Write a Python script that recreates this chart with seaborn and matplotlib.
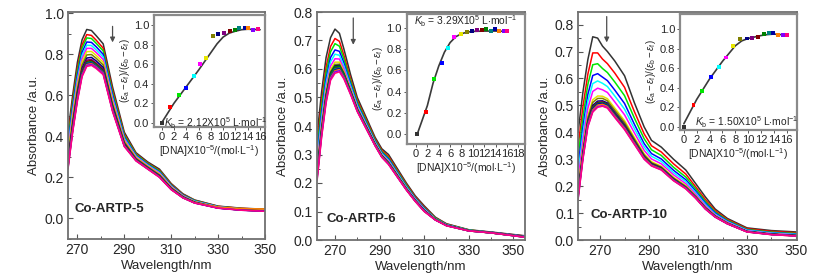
import numpy as np
import pandas as pd
import matplotlib
matplotlib.use('Agg')
import matplotlib.pyplot as plt
from matplotlib.ticker import MultipleLocator, FixedLocator
import seaborn as sns

# estilo
sns.set_style('ticks')
plt.rcParams['font.family'] = ['Liberation Sans', 'DejaVu Sans']
plt.rcParams['mathtext.fontset'] = 'custom'
plt.rcParams['mathtext.rm'] = 'Liberation Sans'
plt.rcParams['mathtext.it'] = 'Liberation Sans:italic'
plt.rcParams['mathtext.bf'] = 'Liberation Sans:bold'

# cores padrao do Origin (uma por adicao de DNA)
cores = ['#333333', '#ff0000', '#00e600', '#0000ff', '#00ffff', '#ff00ff', '#e6e600', '#808000', '#000080',
         '#800080', '#800000', '#008000', '#008080', '#0000a0', '#ff8000', '#8000ff', '#ff0080']

# ---------------- Co-ARTP-5 ----------------
wl5 = [266, 268, 270, 272, 274, 276, 278, 281, 285, 290, 295, 300, 305, 310, 315, 320, 330, 340, 350]
abs5 = [
    [0.420, 0.600, 0.760, 0.870, 0.920, 0.915, 0.890, 0.850, 0.640, 0.420, 0.320, 0.275, 0.240, 0.170, 0.120, 0.090, 0.060, 0.050, 0.045],
    [0.395, 0.575, 0.733, 0.845, 0.895, 0.891, 0.868, 0.829, 0.623, 0.410, 0.314, 0.270, 0.234, 0.166, 0.117, 0.088, 0.059, 0.049, 0.044],
    [0.379, 0.559, 0.716, 0.829, 0.879, 0.876, 0.853, 0.816, 0.612, 0.404, 0.311, 0.267, 0.231, 0.163, 0.115, 0.087, 0.058, 0.048, 0.043],
    [0.359, 0.539, 0.695, 0.809, 0.859, 0.857, 0.836, 0.799, 0.599, 0.396, 0.306, 0.263, 0.226, 0.160, 0.113, 0.085, 0.057, 0.047, 0.042],
    [0.343, 0.523, 0.678, 0.793, 0.843, 0.842, 0.821, 0.786, 0.588, 0.390, 0.303, 0.260, 0.223, 0.157, 0.111, 0.084, 0.056, 0.046, 0.041],
    [0.328, 0.508, 0.663, 0.778, 0.828, 0.828, 0.808, 0.774, 0.579, 0.384, 0.300, 0.257, 0.220, 0.155, 0.110, 0.082, 0.055, 0.045, 0.040],
    [0.312, 0.492, 0.646, 0.762, 0.812, 0.813, 0.794, 0.760, 0.568, 0.378, 0.296, 0.254, 0.216, 0.152, 0.108, 0.081, 0.054, 0.044, 0.039],
    [0.296, 0.476, 0.629, 0.746, 0.796, 0.798, 0.780, 0.747, 0.557, 0.372, 0.292, 0.251, 0.212, 0.149, 0.106, 0.080, 0.053, 0.043, 0.038],
    [0.281, 0.461, 0.614, 0.731, 0.781, 0.784, 0.767, 0.735, 0.548, 0.366, 0.289, 0.248, 0.209, 0.147, 0.105, 0.078, 0.052, 0.042, 0.037],
    [0.271, 0.451, 0.602, 0.721, 0.771, 0.774, 0.757, 0.726, 0.540, 0.362, 0.287, 0.246, 0.207, 0.145, 0.103, 0.078, 0.052, 0.042, 0.037],
    [0.265, 0.445, 0.597, 0.715, 0.765, 0.769, 0.752, 0.721, 0.537, 0.360, 0.286, 0.245, 0.206, 0.144, 0.103, 0.077, 0.051, 0.041, 0.036],
    [0.260, 0.440, 0.591, 0.710, 0.760, 0.764, 0.748, 0.717, 0.533, 0.358, 0.284, 0.244, 0.204, 0.143, 0.102, 0.077, 0.051, 0.041, 0.036],
    [0.256, 0.436, 0.587, 0.706, 0.756, 0.760, 0.744, 0.714, 0.531, 0.356, 0.284, 0.243, 0.204, 0.143, 0.102, 0.076, 0.051, 0.041, 0.036],
    [0.253, 0.433, 0.583, 0.703, 0.753, 0.757, 0.741, 0.711, 0.528, 0.355, 0.283, 0.242, 0.203, 0.142, 0.101, 0.076, 0.051, 0.041, 0.036],
    [0.249, 0.429, 0.580, 0.699, 0.749, 0.754, 0.738, 0.708, 0.526, 0.354, 0.282, 0.242, 0.202, 0.142, 0.101, 0.076, 0.055, 0.048, 0.046],
    [0.245, 0.425, 0.576, 0.695, 0.745, 0.750, 0.735, 0.705, 0.524, 0.352, 0.281, 0.241, 0.201, 0.141, 0.101, 0.075, 0.050, 0.040, 0.035],
    [0.240, 0.420, 0.570, 0.690, 0.740, 0.745, 0.730, 0.700, 0.520, 0.350, 0.280, 0.240, 0.200, 0.140, 0.100, 0.075, 0.050, 0.040, 0.035],
]
dna5 = [0, 1.4, 2.8, 4.0, 5.2, 6.2, 7.2, 8.3, 9.2, 10.2, 11.1, 11.9, 12.6, 13.6, 14.1, 14.9, 15.6]
razao5 = [0.0, 0.164, 0.284, 0.353, 0.48, 0.60, 0.66, 0.89, 0.91, 0.925, 0.94, 0.95, 0.976, 0.97, 0.976, 0.95, 0.96]
ajuste5_x = [0, 2, 4, 6, 7, 8, 9, 10, 11, 12, 13, 14, 15, 16]
ajuste5_y = [0.0, 0.20, 0.37, 0.54, 0.63, 0.72, 0.81, 0.88, 0.92, 0.94, 0.955, 0.96, 0.958, 0.955]

# ---------------- Co-ARTP-6 ----------------
wl6 = [262, 264, 266, 268, 270, 272, 274, 277, 280, 284, 288, 291, 294, 298, 302, 306, 310, 315, 320, 330, 340, 355]
abs6 = [
    [0.370, 0.520, 0.640, 0.710, 0.740, 0.725, 0.670, 0.580, 0.500, 0.430, 0.360, 0.320, 0.300, 0.250, 0.200, 0.155, 0.120, 0.080, 0.057, 0.036, 0.028, 0.015],
    [0.336, 0.486, 0.606, 0.679, 0.707, 0.697, 0.648, 0.565, 0.490, 0.422, 0.354, 0.314, 0.293, 0.244, 0.195, 0.151, 0.116, 0.078, 0.056, 0.035, 0.027, 0.014],
    [0.317, 0.467, 0.587, 0.660, 0.689, 0.680, 0.635, 0.557, 0.484, 0.417, 0.350, 0.310, 0.288, 0.240, 0.192, 0.148, 0.113, 0.077, 0.055, 0.035, 0.027, 0.013],
    [0.295, 0.445, 0.565, 0.640, 0.667, 0.662, 0.621, 0.547, 0.477, 0.411, 0.346, 0.306, 0.284, 0.236, 0.188, 0.146, 0.111, 0.075, 0.054, 0.034, 0.027, 0.013],
    [0.279, 0.429, 0.549, 0.625, 0.652, 0.648, 0.610, 0.540, 0.472, 0.407, 0.343, 0.303, 0.280, 0.233, 0.186, 0.144, 0.109, 0.074, 0.053, 0.034, 0.026, 0.012],
    [0.263, 0.413, 0.533, 0.610, 0.636, 0.635, 0.600, 0.533, 0.467, 0.403, 0.340, 0.300, 0.277, 0.230, 0.183, 0.142, 0.107, 0.073, 0.052, 0.033, 0.026, 0.012],
    [0.250, 0.400, 0.520, 0.598, 0.624, 0.624, 0.591, 0.528, 0.463, 0.400, 0.338, 0.298, 0.274, 0.228, 0.181, 0.140, 0.105, 0.073, 0.052, 0.033, 0.026, 0.011],
    [0.242, 0.392, 0.512, 0.590, 0.616, 0.617, 0.586, 0.524, 0.460, 0.398, 0.336, 0.296, 0.272, 0.226, 0.180, 0.139, 0.104, 0.072, 0.051, 0.033, 0.026, 0.011],
    [0.237, 0.387, 0.507, 0.586, 0.611, 0.613, 0.583, 0.522, 0.459, 0.397, 0.335, 0.295, 0.271, 0.225, 0.179, 0.138, 0.103, 0.072, 0.051, 0.033, 0.026, 0.011],
    [0.231, 0.381, 0.501, 0.580, 0.605, 0.608, 0.579, 0.519, 0.457, 0.395, 0.334, 0.294, 0.270, 0.224, 0.178, 0.138, 0.103, 0.071, 0.051, 0.033, 0.025, 0.011],
    [0.229, 0.379, 0.499, 0.578, 0.604, 0.606, 0.578, 0.518, 0.456, 0.395, 0.334, 0.294, 0.269, 0.224, 0.178, 0.137, 0.102, 0.071, 0.051, 0.032, 0.025, 0.011],
    [0.234, 0.384, 0.504, 0.583, 0.608, 0.610, 0.581, 0.520, 0.458, 0.396, 0.335, 0.295, 0.270, 0.225, 0.179, 0.138, 0.103, 0.072, 0.051, 0.033, 0.025, 0.011],
    [0.226, 0.376, 0.496, 0.575, 0.601, 0.604, 0.576, 0.517, 0.455, 0.394, 0.333, 0.293, 0.269, 0.223, 0.178, 0.137, 0.102, 0.071, 0.051, 0.032, 0.025, 0.011],
    [0.223, 0.373, 0.493, 0.572, 0.597, 0.601, 0.573, 0.516, 0.454, 0.393, 0.332, 0.292, 0.268, 0.222, 0.177, 0.137, 0.102, 0.071, 0.051, 0.032, 0.025, 0.010],
    [0.220, 0.370, 0.490, 0.569, 0.594, 0.598, 0.571, 0.514, 0.453, 0.392, 0.332, 0.292, 0.267, 0.222, 0.177, 0.136, 0.101, 0.071, 0.050, 0.032, 0.025, 0.010],
    [0.215, 0.365, 0.485, 0.565, 0.590, 0.594, 0.568, 0.512, 0.452, 0.391, 0.331, 0.291, 0.266, 0.221, 0.176, 0.136, 0.101, 0.070, 0.050, 0.032, 0.025, 0.010],
    [0.210, 0.360, 0.480, 0.560, 0.585, 0.590, 0.565, 0.510, 0.450, 0.390, 0.330, 0.290, 0.265, 0.220, 0.175, 0.135, 0.100, 0.070, 0.050, 0.032, 0.025, 0.010],
]
dna6 = [0.2, 1.76, 3.17, 4.5, 5.7, 6.75, 7.9, 8.9, 9.9, 10.8, 11.6, 12.4, 13.2, 13.9, 14.6, 15.4, 16.1]
razao6 = [0.0, 0.21, 0.515, 0.67, 0.806, 0.915, 0.937, 0.956, 0.968, 0.975, 0.975, 0.99, 0.97, 0.987, 0.97, 0.968, 0.968]
ajuste6_x = [0.2, 1, 2, 3, 4, 5, 6, 7, 8, 9, 10, 12, 14, 16.1]
ajuste6_y = [0.0, 0.12, 0.27, 0.48, 0.64, 0.77, 0.86, 0.915, 0.943, 0.958, 0.965, 0.968, 0.968, 0.965]

# ---------------- Co-ARTP-10 ----------------
wl10 = [261, 263, 265, 267, 269, 271, 273, 276, 280, 284, 288, 291, 295, 300, 305, 309, 313, 317, 322, 330, 340, 350]
abs10 = [
    [0.400, 0.550, 0.670, 0.755, 0.750, 0.720, 0.700, 0.665, 0.610, 0.510, 0.420, 0.370, 0.345, 0.300, 0.260, 0.210, 0.160, 0.115, 0.080, 0.045, 0.035, 0.030],
    [0.346, 0.496, 0.616, 0.695, 0.695, 0.672, 0.655, 0.620, 0.567, 0.477, 0.394, 0.350, 0.327, 0.283, 0.245, 0.198, 0.150, 0.109, 0.076, 0.042, 0.032, 0.027],
    [0.308, 0.458, 0.578, 0.651, 0.655, 0.637, 0.622, 0.587, 0.536, 0.453, 0.376, 0.335, 0.314, 0.270, 0.234, 0.190, 0.143, 0.104, 0.073, 0.039, 0.029, 0.024],
    [0.271, 0.421, 0.541, 0.611, 0.618, 0.605, 0.592, 0.557, 0.507, 0.430, 0.358, 0.321, 0.301, 0.259, 0.224, 0.182, 0.137, 0.100, 0.070, 0.037, 0.027, 0.022],
    [0.245, 0.395, 0.515, 0.581, 0.591, 0.582, 0.570, 0.535, 0.486, 0.414, 0.346, 0.311, 0.292, 0.250, 0.217, 0.176, 0.132, 0.096, 0.068, 0.036, 0.026, 0.021],
    [0.219, 0.369, 0.489, 0.552, 0.564, 0.558, 0.548, 0.513, 0.465, 0.398, 0.333, 0.301, 0.283, 0.242, 0.209, 0.170, 0.127, 0.093, 0.066, 0.034, 0.024, 0.019],
    [0.191, 0.341, 0.461, 0.521, 0.535, 0.534, 0.525, 0.490, 0.443, 0.381, 0.320, 0.291, 0.274, 0.233, 0.202, 0.164, 0.122, 0.090, 0.063, 0.032, 0.022, 0.017],
    [0.183, 0.333, 0.453, 0.511, 0.526, 0.526, 0.517, 0.482, 0.436, 0.375, 0.316, 0.287, 0.271, 0.230, 0.199, 0.162, 0.121, 0.089, 0.063, 0.032, 0.022, 0.017],
    [0.173, 0.323, 0.443, 0.500, 0.516, 0.517, 0.509, 0.474, 0.428, 0.369, 0.311, 0.284, 0.268, 0.227, 0.196, 0.160, 0.119, 0.088, 0.062, 0.031, 0.021, 0.016],
    [0.168, 0.318, 0.438, 0.495, 0.511, 0.513, 0.505, 0.470, 0.424, 0.366, 0.308, 0.282, 0.266, 0.226, 0.195, 0.159, 0.118, 0.087, 0.061, 0.031, 0.021, 0.016],
    [0.167, 0.317, 0.437, 0.494, 0.510, 0.512, 0.504, 0.469, 0.424, 0.365, 0.308, 0.282, 0.266, 0.225, 0.195, 0.159, 0.118, 0.087, 0.061, 0.031, 0.021, 0.016],
    [0.165, 0.315, 0.435, 0.492, 0.508, 0.510, 0.503, 0.468, 0.422, 0.364, 0.307, 0.281, 0.265, 0.225, 0.194, 0.158, 0.118, 0.087, 0.061, 0.031, 0.021, 0.016],
    [0.163, 0.313, 0.433, 0.489, 0.506, 0.508, 0.501, 0.466, 0.420, 0.363, 0.306, 0.280, 0.264, 0.224, 0.194, 0.158, 0.117, 0.087, 0.061, 0.031, 0.021, 0.016],
    [0.162, 0.312, 0.432, 0.488, 0.505, 0.507, 0.500, 0.465, 0.420, 0.362, 0.306, 0.280, 0.264, 0.224, 0.193, 0.158, 0.117, 0.087, 0.061, 0.031, 0.021, 0.016],
    [0.158, 0.308, 0.428, 0.483, 0.501, 0.504, 0.496, 0.461, 0.416, 0.360, 0.304, 0.278, 0.263, 0.222, 0.192, 0.157, 0.116, 0.086, 0.061, 0.030, 0.020, 0.015],
    [0.153, 0.303, 0.423, 0.478, 0.496, 0.499, 0.492, 0.457, 0.412, 0.357, 0.301, 0.276, 0.261, 0.221, 0.191, 0.156, 0.115, 0.085, 0.060, 0.030, 0.020, 0.015],
    [0.150, 0.300, 0.420, 0.475, 0.493, 0.497, 0.490, 0.455, 0.410, 0.355, 0.300, 0.275, 0.260, 0.220, 0.190, 0.155, 0.115, 0.085, 0.060, 0.030, 0.020, 0.015],
]
dna10 = [0, 1.5, 2.8, 4.2, 5.4, 6.6, 7.7, 8.7, 9.8, 10.6, 11.5, 12.4, 13.2, 13.9, 14.6, 15.4, 16.0]
razao10 = [0.0, 0.22, 0.37, 0.51, 0.61, 0.71, 0.83, 0.895, 0.905, 0.91, 0.92, 0.95, 0.965, 0.96, 0.945, 0.945, 0.94]
ajuste10_x = [0, 2, 4, 6, 8, 9, 10, 11, 12, 13, 14, 15, 16]
ajuste10_y = [0.03, 0.28, 0.49, 0.67, 0.83, 0.88, 0.905, 0.92, 0.935, 0.945, 0.95, 0.945, 0.94]

marcas_x = [270, 290, 310, 330, 350]
W, H = 822, 279


def ret(esq, dir, topo, base):
    # pixels -> fracao da figura
    return [esq / W, (H - base) / H, (dir - esq) / W, (base - topo) / H]


def tabela(wl, linhas):
    registros = []
    for i, linha in enumerate(linhas):
        for w, a in zip(wl, linha):
            registros.append((w, a, i))
    return pd.DataFrame(registros, columns=['wl', 'A', 'curva'])


def painel(fig, caixa, wl, linhas, xlim, ylim, passo_y, nome, pos_nome, seta):
    ax = fig.add_axes(caixa)
    df = tabela(wl, linhas)
    sns.lineplot(data=df, x='wl', y='A', hue='curva', palette=cores, legend=False,
                 lw=1.1, estimator=None, sort=False, ax=ax)
    ax.set_xlim(*xlim)
    ax.set_ylim(*ylim)
    ax.xaxis.set_major_locator(FixedLocator(marcas_x))
    ax.xaxis.set_minor_locator(FixedLocator([m + 10 for m in marcas_x]))
    ax.yaxis.set_major_locator(MultipleLocator(passo_y))
    ax.yaxis.set_minor_locator(MultipleLocator(passo_y / 2))
    ax.yaxis.set_major_formatter(lambda v, p: f'{v:.1f}')
    ax.tick_params(which='major', direction='in', length=3.5, width=0.8, color='#555555', labelsize=10, pad=3)
    ax.tick_params(which='minor', direction='in', length=2, width=0.7, color='#555555')
    for s in ax.spines.values():
        s.set_color('#707070')
        s.set_linewidth(1.3)
    ax.set_xlabel('Wavelength/nm', fontsize=9.5, labelpad=2)
    ax.set_ylabel('Absorbance /a.u.', fontsize=9.5, labelpad=3)
    ax.text(pos_nome[0], pos_nome[1], nome, fontsize=9.5, fontweight='bold', va='center', ha='left')
    ax.annotate('', xy=(seta[0], seta[2]), xytext=(seta[0], seta[1]),
                arrowprops=dict(arrowstyle='-|>', color='#4d4d4d', lw=0.9, mutation_scale=7,
                                shrinkA=0, shrinkB=0))
    return ax


def inserto(fig, caixa, px, py, fx, fy, xlim, ylim, xmax_tick, texto, pos_texto):
    ins = fig.add_axes(caixa)
    ins.set_facecolor('white')
    sns.lineplot(x=fx, y=fy, color='#3a3a3a', lw=1.2, ax=ins)
    sns.scatterplot(x=px, y=py, hue=list(range(len(px))), palette=cores, marker='s', s=8,
                    edgecolor='none', legend=False, ax=ins, zorder=3)
    ins.set_xlim(*xlim)
    ins.set_ylim(*ylim)
    ins.set_xticks(np.arange(0, xmax_tick + 1, 2))
    ins.set_yticks(np.arange(0, 1.01, 0.2))
    ins.yaxis.set_major_formatter(lambda v, p: f'{v:.1f}')
    ins.tick_params(direction='out', length=2, width=0.7, color='#555555', labelsize=8, pad=1.5)
    for s in ins.spines.values():
        s.set_color('#8a8a8a')
        s.set_linewidth(1.6)
    ins.set_xlabel(r'[DNA]X10$^{-5}$/(mol$\cdot$L$^{-1}$)', fontsize=7.5, labelpad=1)
    ins.set_ylabel(r'$(\varepsilon_\mathrm{a}-\varepsilon_\mathrm{f})/(\varepsilon_\mathrm{b}-\varepsilon_\mathrm{f})$',
                   fontsize=7, labelpad=1)
    ins.text(pos_texto[0], pos_texto[1], texto, fontsize=7.4, va='center', ha='left')
    return ins


fig = plt.figure(figsize=(W / 100, H / 100), dpi=100)

painel(fig, ret(68, 265, 12, 239), wl5, abs5, (266, 350), (-0.1, 1.005), 0.2,
       'Co-ARTP-5', (268.6, 0.045), (285, 0.935, 0.857))
inserto(fig, ret(154, 265, 15, 127), dna5, razao5, ajuste5_x, ajuste5_y, (-1.25, 16.8), (-0.044, 1.106), 16,
        r'$K_\mathrm{b}$ = 2.12X10$^5$ L$\cdot$mol$^{-1}$', (0.4, 0.0))

painel(fig, ret(316.7, 525, 12, 240), wl6, abs6, (261.8, 355.2), (0, 0.8), 0.1,
       'Co-ARTP-6', (266, 0.074), (278.2, 0.779, 0.685))
inserto(fig, ret(406.7, 525, 14, 144), dna6, razao6, ajuste6_x, ajuste6_y, (-1.64, 19.19), (-0.09, 1.128), 18,
        r'$K_\mathrm{b}$ = 3.29X10$^5$ L$\cdot$mol$^{-1}$', (-0.3, 1.06))

painel(fig, ret(578.3, 796.7, 12, 240), wl10, abs10, (261.1, 350.3), (0, 0.847), 0.1,
       'Co-ARTP-10', (265.9, 0.093), (272.7, 0.83, 0.734))
inserto(fig, ret(680, 796.7, 14, 130), dna10, razao10, ajuste10_x, ajuste10_y, (-0.6, 17.55), (-0.034, 1.156), 16,
        r'$K_\mathrm{b}$ = 1.50X10$^5$ L$\cdot$mol$^{-1}$', (1.7, 0.05))

fig.savefig('out.png', dpi=100)
